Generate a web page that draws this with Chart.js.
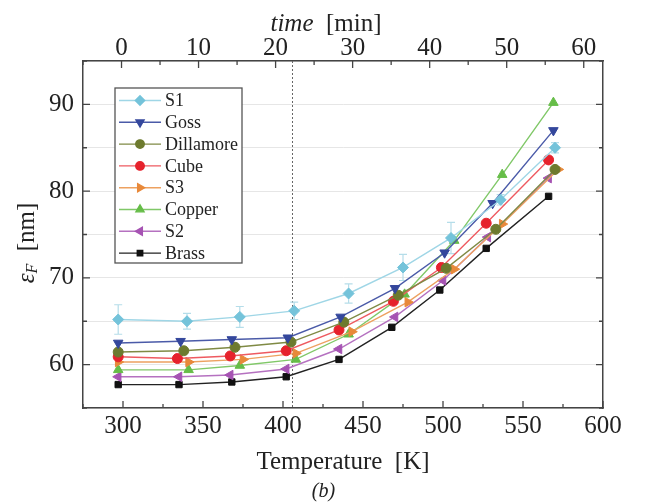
<!DOCTYPE html>
<html>
<head>
<meta charset="utf-8">
<script src="https://cdn.jsdelivr.net/npm/chart.js@4.4.1/dist/chart.umd.min.js"></script>
<style>
html, body { margin: 0; padding: 0; background: #fff; }
</style>
</head>
<body>
<canvas id="chart" width="647" height="504"></canvas>
<script>
// values: temperature [K] and eps_F [nm]
const seriesNames = ["S1", "Goss", "Dillamore", "Cube", "S3", "Copper", "S2", "Brass"];

const tempS1 = [297, 340, 373, 407, 441, 475, 505, 536, 570];
const valS1 = [65.2, 65.0, 65.5, 66.2, 68.2, 71.2, 74.6, 79.0, 85.0];
const errS1 = [1.7, 0.9, 1.2, 1.0, 1.1, 1.5, 1.8, 0.6, 0.6];

const tempGoss = [297, 336, 368, 403, 436, 470, 501, 531, 569];
const valGoss = [62.5, 62.7, 62.9, 63.1, 65.5, 68.8, 72.9, 78.6, 87.0];

const tempDillamore = [297, 338, 370, 405, 438, 472, 502, 533, 570];
const valDillamore = [61.45, 61.6, 62.0, 62.6, 64.9, 68.0, 71.1, 75.6, 82.5];

const tempCube = [297, 334, 367, 402, 435, 469, 499, 527, 566];
const valCube = [60.9, 60.7, 61.0, 61.6, 64.0, 67.3, 71.2, 76.3, 83.6];

const tempS3 = [297, 341, 375, 408, 443, 478, 507, 537, 572];
const valS3 = [60.3, 60.3, 60.6, 61.3, 63.8, 67.2, 71.0, 76.2, 82.5];

const tempCopper = [297, 341, 373, 408, 441, 476, 507, 537, 569];
const valCopper = [59.4, 59.4, 59.9, 60.6, 63.5, 68.1, 74.3, 81.9, 90.2];

const tempS2 = [297, 335, 367, 402, 435, 470, 500, 528, 566];
const valS2 = [58.6, 58.6, 58.8, 59.5, 61.8, 65.5, 69.7, 74.7, 81.5];

const tempBrass = [297, 335, 368, 402, 435, 468, 498, 527, 566];
const valBrass = [57.7, 57.7, 58.0, 58.6, 60.6, 64.3, 68.6, 73.4, 79.4];

const xTickLabels = [300, 350, 400, 450, 500, 550, 600];
const timeTickLabels = [0, 10, 20, 30, 40, 50, 60];
const yTickLabels = [60, 70, 80, 90];
const markerTemp = 405.5; // dotted line

const temps = [tempS1, tempGoss, tempDillamore, tempCube, tempS3, tempCopper, tempS2, tempBrass];
const vals = [valS1, valGoss, valDillamore, valCube, valS3, valCopper, valS2, valBrass];

// looks
const serif = '"Liberation Serif", "Times New Roman", serif';
const looks = [
    { color: "#74c3da", line: "#9fd6e6", shape: "rectRot", rot: 0, r: 5.5 },
    { color: "#34479c", line: "#4a5aa8", shape: "triangle", rot: 180, r: 5.5 },
    { color: "#6d7a2e", line: "#7f8a44", shape: "circle", rot: 0, r: 5 },
    { color: "#e6222c", line: "#ee5a60", shape: "circle", rot: 0, r: 5 },
    { color: "#e8893a", line: "#eda160", shape: "triangle", rot: 90, r: 5.5 },
    { color: "#66bd48", line: "#80c868", shape: "triangle", rot: 0, r: 5.5 },
    { color: "#a653b3", line: "#b571c0", shape: "triangle", rot: 270, r: 5.5 },
    { color: "#111111", line: "#222222", shape: "rect", rot: 0, r: 4.5 },
];

const datasets = seriesNames.map((name, i) => ({
    label: name,
    data: temps[i].map((t, j) => ({ x: t, y: vals[i][j] })),
    showLine: true,
    borderColor: looks[i].line,
    borderWidth: 1.4,
    backgroundColor: looks[i].color,
    pointBackgroundColor: looks[i].color,
    pointBorderColor: looks[i].color,
    pointBorderWidth: 1,
    pointStyle: looks[i].shape,
    pointRotation: looks[i].rot,
    pointRadius: looks[i].r,
    tension: 0,
}));

const isOn = (v, list) => list.some(t => Math.abs(t - v) < 1e-6);

function mixedText(ctx, parts, cx, cy) {
    let w = 0;
    parts.forEach(p => { ctx.font = p.font; w += ctx.measureText(p.t).width; });
    let x = cx - w / 2;
    ctx.textBaseline = "middle";
    ctx.textAlign = "left";
    parts.forEach(p => {
        ctx.font = p.font;
        ctx.fillText(p.t, x, cy + (p.dy || 0));
        x += ctx.measureText(p.t).width;
    });
}

const extras = {
    id: "extras",
    beforeDatasetsDraw(chart) {
        const ctx = chart.ctx;
        const { top, bottom } = chart.chartArea;
        const xs = chart.scales.x, ys = chart.scales.y;
        // dotted vertical line
        ctx.save();
        ctx.strokeStyle = "#666";
        ctx.lineWidth = 1;
        ctx.setLineDash([2, 2]);
        const px = Math.round(xs.getPixelForValue(markerTemp)) + 0.5;
        ctx.beginPath();
        ctx.moveTo(px, top);
        ctx.lineTo(px, bottom);
        ctx.stroke();
        ctx.restore();
        // error bars of S1
        ctx.save();
        ctx.strokeStyle = "#b5dde9";
        ctx.lineWidth = 1.2;
        tempS1.forEach((t, j) => {
            const x = xs.getPixelForValue(t);
            const y1 = ys.getPixelForValue(valS1[j] + errS1[j]);
            const y2 = ys.getPixelForValue(valS1[j] - errS1[j]);
            ctx.beginPath();
            ctx.moveTo(x, y1); ctx.lineTo(x, y2);
            ctx.moveTo(x - 4, y1); ctx.lineTo(x + 4, y1);
            ctx.moveTo(x - 4, y2); ctx.lineTo(x + 4, y2);
            ctx.stroke();
        });
        ctx.restore();
    },
    afterDraw(chart) {
        const ctx = chart.ctx;
        const { left, right, top, bottom } = chart.chartArea;
        const xs = chart.scales.x, x2 = chart.scales.x2, ys = chart.scales.y;
        ctx.save();
        ctx.strokeStyle = "#444";
        ctx.lineWidth = 1.3;
        ctx.beginPath();
        // inward ticks, bottom (K)
        for (let v = 275; v <= 600; v += 25) {
            const px = xs.getPixelForValue(v);
            const len = v % 50 === 0 ? 7 : 4;
            ctx.moveTo(px, bottom); ctx.lineTo(px, bottom - len);
        }
        // top (min)
        for (let v = -5; v <= 62.5; v += 5) {
            const px = x2.getPixelForValue(v);
            const len = v % 10 === 0 ? 7 : 4;
            ctx.moveTo(px, top); ctx.lineTo(px, top + len);
        }
        // left and right
        for (let v = 55; v <= 95; v += 5) {
            const py = ys.getPixelForValue(v);
            const len = v % 10 === 0 ? 7 : 4;
            ctx.moveTo(left, py); ctx.lineTo(left + len, py);
            ctx.moveTo(right, py); ctx.lineTo(right - len, py);
        }
        ctx.stroke();
        ctx.restore();

        // legend
        ctx.save();
        const bx = 115, by = 88, bw = 127, bh = 175;
        ctx.fillStyle = "#fff";
        ctx.fillRect(bx, by, bw, bh);
        ctx.strokeStyle = "#555";
        ctx.lineWidth = 1.3;
        ctx.strokeRect(bx, by, bw, bh);
        chart.data.datasets.forEach((ds, i) => {
            const y = by + 12.5 + i * 21.8;
            ctx.strokeStyle = ds.borderColor;
            ctx.lineWidth = 1.4;
            ctx.beginPath();
            ctx.moveTo(bx + 4, y); ctx.lineTo(bx + 46, y);
            ctx.stroke();
            ctx.fillStyle = ds.pointBackgroundColor;
            ctx.strokeStyle = ds.pointBorderColor;
            Chart.helpers.drawPoint(ctx, {
                pointStyle: ds.pointStyle, rotation: ds.pointRotation,
                radius: ds.pointRadius * 0.85, borderWidth: 1,
            }, bx + 25, y);
            ctx.fillStyle = "#222";
            ctx.font = "18px " + serif;
            ctx.textBaseline = "middle";
            ctx.textAlign = "left";
            ctx.fillText(ds.label, bx + 50, y + 1);
        });
        ctx.restore();

        // axis titles with mixed styles
        ctx.save();
        ctx.fillStyle = "#222";
        mixedText(ctx, [
            { t: "time", font: "italic 25px " + serif },
            { t: "  [min]", font: "25px " + serif },
        ], 326, 24);
        ctx.translate(27, 243);
        ctx.rotate(-Math.PI / 2);
        mixedText(ctx, [
            { t: "ε", font: "italic 25px " + serif },
            { t: "F", font: "italic 16px " + serif, dy: 6 },
            { t: "  [nm]", font: "25px " + serif },
        ], 0, 0);
        ctx.restore();
    },
};

const tickFont = { family: serif, size: 25, lineHeight: 1 };

new Chart(document.getElementById("chart").getContext("2d"), {
    type: "scatter",
    data: { datasets: datasets },
    options: {
        responsive: false,
        animation: false,
        events: [],
        layout: { padding: 0 },
        plugins: {
            legend: { display: false },
            tooltip: { enabled: false },
            title: {
                display: true,
                position: "bottom",
                text: "(b)",
                color: "#222",
                font: { family: serif, size: 20, style: "italic", weight: "normal", lineHeight: 1.2 },
                padding: 0,
            },
        },
        scales: {
            x: {
                type: "linear",
                position: "bottom",
                min: 275,
                max: 600,
                afterFit: s => { s.height = 72; },
                grid: { display: false, drawTicks: false },
                border: { display: true, color: "#444", width: 1.5 },
                ticks: {
                    stepSize: 25,
                    autoSkip: false,
                    maxRotation: 0,
                    padding: 6,
                    color: "#222",
                    font: tickFont,
                    callback: v => isOn(v, xTickLabels) ? v : "",
                },
                title: {
                    display: true,
                    text: "Temperature  [K]",
                    color: "#222",
                    font: { family: serif, size: 25, lineHeight: 1.2 },
                    padding: { top: 0, bottom: 3 },
                },
            },
            x2: {
                type: "linear",
                position: "top",
                min: -5,
                max: 62.5,
                afterFit: s => { s.height = 61; },
                afterBuildTicks: s => { s.ticks = timeTickLabels.map(v => ({ value: v })); },
                grid: { display: false, drawTicks: false },
                border: { display: true, color: "#444", width: 1.5 },
                ticks: {
                    autoSkip: false,
                    maxRotation: 0,
                    padding: 0,
                    color: "#222",
                    font: tickFont,
                },
            },
            y: {
                type: "linear",
                position: "left",
                min: 55,
                max: 95,
                afterFit: s => { s.width = 83; },
                grid: { color: "#e6e6e6", lineWidth: 1, drawTicks: false },
                border: { display: true, color: "#444", width: 1.5 },
                ticks: {
                    stepSize: 5,
                    padding: 9,
                    color: "#222",
                    font: tickFont,
                    callback: v => isOn(v, yTickLabels) ? v : "",
                },
            },
            y2: {
                type: "linear",
                position: "right",
                min: 55,
                max: 95,
                afterFit: s => { s.width = 44; },
                grid: { display: false, drawTicks: false },
                border: { display: true, color: "#444", width: 1.5 },
                ticks: { display: false },
            },
        },
    },
    plugins: [extras],
});
</script>
</body>
</html>
